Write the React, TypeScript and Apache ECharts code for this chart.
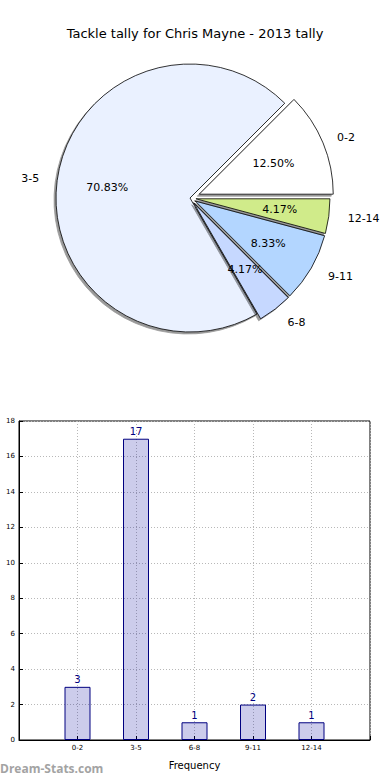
import React, { useEffect, useRef } from "react";
import * as echarts from "echarts";

const titleText = "Tackle tally for Chris Mayne - 2013 tally";
const categories = ["0-2", "3-5", "6-8", "9-11", "12-14"];
const counts = [3, 17, 1, 2, 1];
const pieColors = ["#ffffff", "#eaf1ff", "#c6d8ff", "#b3d6ff", "#d0eb8a"];
const yTicks = { min: 0, max: 18, interval: 2 };
const xAxisName = "Frequency";
const yAxisName = "Stat Instances";
const watermark = "Dream-Stats.com";

const FONT = "DejaVu Sans";

export default function App() {
  const ref = useRef<HTMLDivElement>(null);
  useEffect(() => {
    document.body.style.margin = "0";
    const chart = echarts.init(ref.current!, undefined, { renderer: "svg" });
    const center = [190, 198];
    const R = 134;
    const total = counts.reduce((a, b) => a + b, 0);

    const shadow = {
      shadowColor: "rgba(0,0,0,0.4)",
      shadowBlur: 1,
      shadowOffsetX: -2,
      shadowOffsetY: 2,
    };

    const pieBase = {
      type: "pie",
      center,
      radius: R,
      startAngle: 0,
      clockwise: false,
      silent: true,
      avoidLabelOverlap: false,
      selectedMode: "multiple",
      emphasis: { disabled: true },
      labelLine: { show: false },
    };

    const mainData = categories.map((c, i) => ({
      name: c,
      value: counts[i],
      selected: i >= 2,
      itemStyle:
        i === 0
          ? { opacity: 0, color: "transparent", borderWidth: 0 }
          : { color: pieColors[i], borderColor: "#000", borderWidth: 0.8, ...shadow },
      label: { show: false },
    }));
    const firstData = categories.map((c, i) => ({
      name: c,
      value: counts[i],
      selected: i === 0,
      itemStyle:
        i === 0
          ? { color: pieColors[i], borderColor: "#000", borderWidth: 0.8, ...shadow }
          : { opacity: 0, color: "transparent", borderWidth: 0 },
      label: { show: false },
    }));
    const pctData = categories.map((c, i) => ({
      name: c,
      value: counts[i],
      selected: i !== 1,
      itemStyle: { color: "transparent", borderWidth: 0 },
    }));
    const nameData = categories.map((c, i) => ({
      name: c,
      value: counts[i],
      selected: i !== 1,
      itemStyle: { color: "transparent", borderWidth: 0 },
    }));

    const barCats = ["", ...categories, ""];
    const barData = ["-", ...counts, "-"];

    chart.setOption({
      animation: false,
      title: {
        text: titleText,
        left: "center",
        top: 22,
        textStyle: { fontFamily: FONT, fontSize: 13, fontWeight: "normal", color: "#000" },
      },
      graphic: [
        {
          type: "text",
          left: 0,
          top: 762,
          style: {
            text: watermark,
            fontFamily: "Open Sans",
            fontWeight: "bold",
            fontSize: 12,
            fill: "#a3a3a3",
          },
        },
      ],
      grid: {
        left: 19,
        right: 20,
        top: 421,
        bottom: 40,
        containLabel: false,
        outerBoundsMode: "none",
        show: true,
        borderColor: "#000",
        borderWidth: 1,
        backgroundColor: "transparent",
      },
      xAxis: {
        type: "category",
        data: barCats,
        boundaryGap: false,
        name: xAxisName,
        nameLocation: "middle",
        nameGap: 20,
        nameTextStyle: { fontFamily: FONT, fontSize: 10, color: "#000" },
        axisLine: { lineStyle: { color: "#000" } },
        axisTick: { inside: true, length: 4, lineStyle: { color: "#000" } },
        axisLabel: { fontFamily: FONT, fontSize: 7, color: "#000", margin: 4 },
        splitLine: { show: true, lineStyle: { color: "#b8b8b8", type: [1, 2] } },
      },
      yAxis: {
        type: "value",
        min: yTicks.min,
        max: yTicks.max,
        interval: yTicks.interval,
        name: yAxisName,
        nameLocation: "middle",
        nameGap: 17,
        nameTextStyle: { fontFamily: FONT, fontSize: 8, color: "#000" },
        axisLine: { show: true, lineStyle: { color: "#000" } },
        axisTick: { show: true, inside: true, length: 4, lineStyle: { color: "#000" } },
        axisLabel: { fontFamily: FONT, fontSize: 7, color: "#000", margin: 4 },
        splitLine: { show: true, lineStyle: { color: "#b8b8b8", type: [1, 2] } },
      },
      series: [
        {
          ...pieBase,
          name: "pieMain",
          selectedOffset: 6,
          data: mainData,
          label: { show: false },
        },
        {
          ...pieBase,
          name: "pieFirst",
          selectedOffset: 10,
          data: firstData,
          label: { show: false },
        },
        {
          ...pieBase,
          name: "pct",
          radius: [R * 0.6 - 12, R * 0.6 + 12],
          selectedOffset: 7,
          data: pctData,
          label: {
            show: true,
            position: "inside",
            fontFamily: FONT,
            fontSize: 11,
            color: "#000",
            formatter: (p: any) => ((p.value / total) * 100).toFixed(2) + "%",
          },
        },
        {
          ...pieBase,
          name: "names",
          selectedOffset: 7,
          data: nameData,
          label: {
            show: true,
            position: "outside",
            fontFamily: FONT,
            fontSize: 11,
            color: "#000",
            distanceToLabelLine: 2,
            formatter: "{b}",
          },
          labelLine: { show: false, length: 16, length2: 0 },
        },
        {
          type: "bar",
          name: "count",
          data: barData,
          barWidth: 26,
          silent: true,
          itemStyle: { color: "rgba(0,0,153,0.2)", borderColor: "#000080", borderWidth: 1 },
          label: {
            show: true,
            position: "top",
            distance: 2,
            fontFamily: FONT,
            fontSize: 10,
            color: "#000080",
          },
        },
      ],
    });
    return () => chart.dispose();
  }, []);
  return <div ref={ref} style={{ width: 390, height: 780 }} />;
}
